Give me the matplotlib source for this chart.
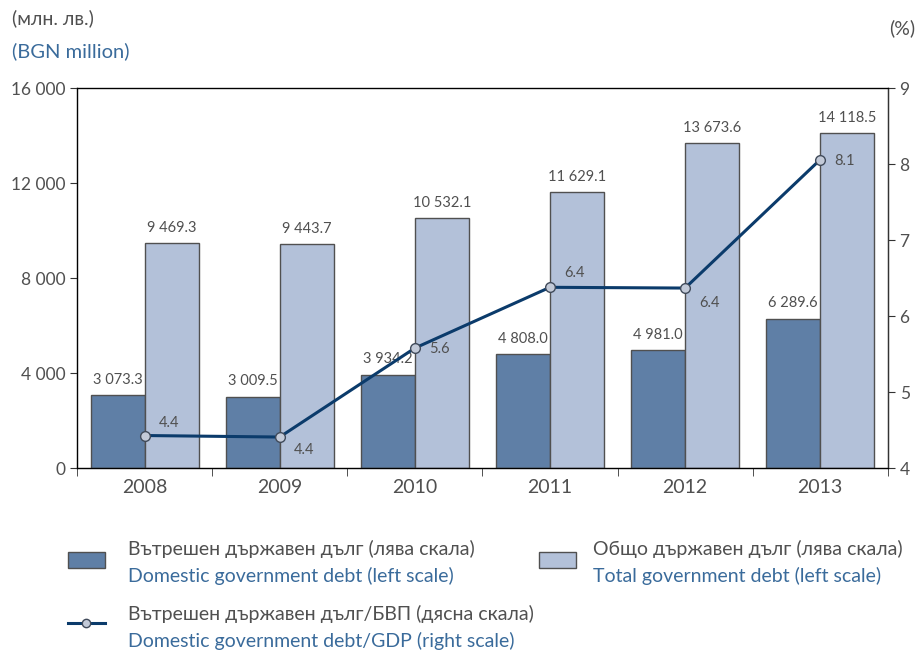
import matplotlib.pyplot as plt
import numpy as np
from matplotlib.patches import Rectangle
from matplotlib.lines import Line2D

plt.rcParams['font.family'] = ['Lato', 'DejaVu Sans']

# Data
years = ['2008', '2009', '2010', '2011', '2012', '2013']
domestic_debt = [3073.3, 3009.5, 3934.2, 4808.0, 4981.0, 6289.6]
total_debt = [9469.3, 9443.7, 10532.1, 11629.1, 13673.6, 14118.5]
domestic_gdp = [4.43, 4.41, 5.58, 6.38, 6.37, 8.06]

dark_c = '#5f7fa6'
light_c = '#b3c1d9'
edge_c = '#505050'
line_c = '#0b3b6b'
text_c = '#505050'
blue_c = '#3a6b9b'

def fmt(v, d=1):
    s = f"{v:,.{d}f}".replace(',', ' ')
    return s

fig = plt.figure(figsize=(9.2, 6.53), dpi=100)
ax = fig.add_axes([0.0837, 0.283, 0.8813, 0.582])
x = np.arange(len(years))
w = 0.4

b1 = ax.bar(x - w / 2, domestic_debt, w, color=dark_c, edgecolor=edge_c, linewidth=1.0, zorder=2)
b2 = ax.bar(x + w / 2, total_debt, w, color=light_c, edgecolor=edge_c, linewidth=1.0, zorder=2)

for xi, v in zip(x, domestic_debt):
    ax.text(xi - w / 2, v + 350, fmt(v), ha='center', va='bottom', fontsize=10.5, color=text_c)
for xi, v in zip(x, total_debt):
    ax.text(xi + w / 2, v + 350, fmt(v), ha='center', va='bottom', fontsize=10.5, color=text_c)

ax.set_xlim(-0.5, len(years) - 0.5)
ax.set_ylim(0, 16000)
ax.set_yticks([0, 4000, 8000, 12000, 16000])
ax.set_yticklabels([fmt(t, 0) for t in [0, 4000, 8000, 12000, 16000]])
ax.set_xticks(x)
ax.set_xticklabels(years)
ax.set_xticks(np.arange(-0.5, len(years)), minor=True)
ax.tick_params(axis='x', which='major', length=0, labelsize=14, colors=text_c, pad=8)
ax.tick_params(axis='x', which='minor', length=6, color='#333333', direction='out')
ax.tick_params(axis='y', labelsize=12.5, colors=text_c, length=5, color='#333333')
for side in ['left', 'bottom', 'top', 'right']:
    ax.spines[side].set_color('#333333')
    ax.spines[side].set_linewidth(1.0)
ax.spines['top'].set_color('#555555')

ax2 = ax.twinx()
ax2.set_ylim(4, 9)
ax2.set_yticks([4, 5, 6, 7, 8, 9])
ax2.tick_params(axis='y', labelsize=12.5, colors=text_c, length=5, color='#333333')
ax2.spines['right'].set_color('#333333')
ax2.plot(x, domestic_gdp, '-o', color=line_c, linewidth=2.2, markersize=7,
         markerfacecolor='#c3cad8', markeredgecolor='#404a5a', markeredgewidth=1.0, zorder=5)

offsets = [(10, 4, 'left', 'bottom'), (10, -4, 'left', 'top'), (10, -1, 'left', 'center'),
           (10, 5, 'left', 'bottom'), (10, -6, 'left', 'top'), (10, -1, 'left', 'center')]
for xi, v, (dx, dy, ha, va) in zip(x, domestic_gdp, offsets):
    ax2.annotate(f"{v:.1f}", (xi, v), xytext=(dx, dy), textcoords='offset points',
                 ha=ha, va=va, fontsize=10.5, color=text_c)

# Axis unit labels
fig.text(0.013, 0.972, '(млн. лв.)', fontsize=14, color=text_c, va='center')
fig.text(0.013, 0.922, '(BGN million)', fontsize=14.5, color=blue_c, va='center')
fig.text(0.995, 0.957, '(%)', fontsize=14, color=text_c, va='center', ha='right')

# Legend
def fx(px):
    return px / 920

def fy(py):
    return 1 - py / 653

fig.add_artist(Rectangle((fx(68), fy(568)), fx(37), 16 / 653, transform=fig.transFigure,
                         facecolor=dark_c, edgecolor=edge_c, linewidth=1.0))
fig.add_artist(Rectangle((fx(539), fy(568)), fx(37), 16 / 653, transform=fig.transFigure,
                         facecolor=light_c, edgecolor=edge_c, linewidth=1.0))
fig.add_artist(Line2D([fx(68), fx(105)], [fy(623), fy(623)], transform=fig.transFigure,
                      color=line_c, linewidth=2.2, marker=None))
fig.add_artist(Line2D([fx(86.5)], [fy(623)], transform=fig.transFigure, marker='o',
                      markersize=6, markerfacecolor='#c3cad8', markeredgecolor='#404a5a'))

leg_fs = 14
fig.text(fx(128), fy(549), 'Вътрешен държавен дълг (лява скала)', fontsize=leg_fs, color=text_c, va='center')
fig.text(fx(128), fy(576), 'Domestic government debt (left scale)', fontsize=leg_fs, color=blue_c, va='center')
fig.text(fx(593), fy(549), 'Общо държавен дълг (лява скала)', fontsize=leg_fs, color=text_c, va='center')
fig.text(fx(593), fy(576), 'Total government debt (left scale)', fontsize=leg_fs, color=blue_c, va='center')
fig.text(fx(128), fy(614), 'Вътрешен държавен дълг/БВП (дясна скала)', fontsize=leg_fs, color=text_c, va='center')
fig.text(fx(128), fy(641), 'Domestic government debt/GDP (right scale)', fontsize=leg_fs, color=blue_c, va='center')

fig.savefig('out.png', dpi=100)
